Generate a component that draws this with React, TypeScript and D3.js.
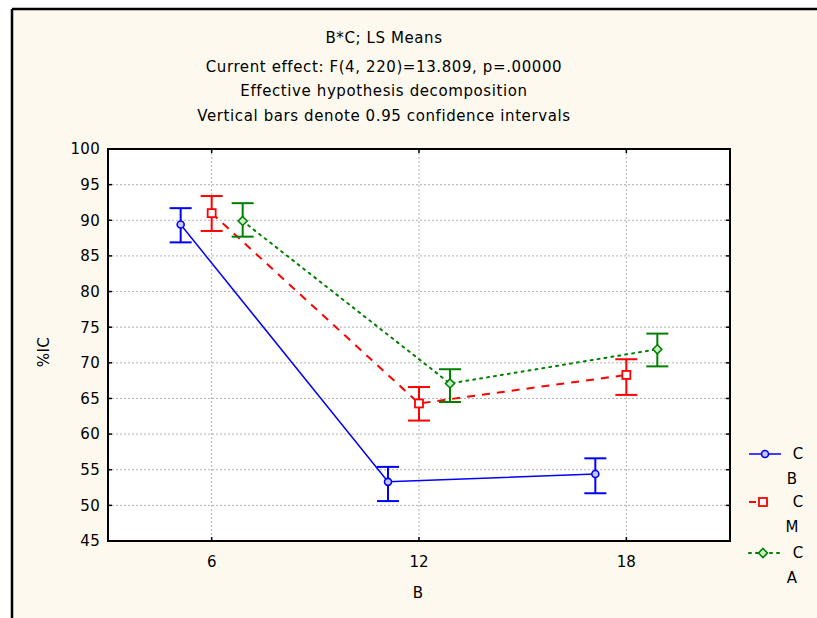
import * as d3 from 'd3'

const width = 817,
      height = 618,
      frame = { left: 108, right: 730, top: 149, bottom: 541 },
      font = '"DejaVu Sans", Verdana, sans-serif'

const titleLines = [
  'B*C; LS Means',
  'Current effect: F(4, 220)=13.809, p=.00000',
  'Effective hypothesis decomposition',
  'Vertical bars denote 0.95 confidence intervals'
]

const categories = [6, 12, 18]
const yTicks = [100, 95, 90, 85, 80, 75, 70, 65, 60, 55, 50, 45]
const seriesNames = ['B', 'M', 'A']

const meanB = [89.4, 53.3, 54.4]
const lowB = [86.9, 50.6, 51.7]
const highB = [91.7, 55.4, 56.6]

const meanM = [91.0, 64.3, 68.3]
const lowM = [88.5, 61.9, 65.5]
const highM = [93.4, 66.6, 70.5]

const meanA = [89.9, 67.1, 71.9]
const lowA = [87.7, 64.5, 69.5]
const highA = [92.4, 69.1, 74.1]

const series = [
  { name: 'B', mean: meanB, low: lowB, high: highB, color: '#0000ff', dash: null, marker: 'circle', width: 1.5 },
  { name: 'M', mean: meanM, low: lowM, high: highM, color: '#ff0000', dash: '8,7', marker: 'square', width: 2 },
  { name: 'A', mean: meanA, low: lowA, high: highA, color: '#008000', dash: '2,5', marker: 'diamond', width: 2 }
]

const Marker = ({ type, x, y, color }: { type: string, x: number, y: number, color: string }) => {
  if (type === 'circle') return <circle cx={x} cy={y} r={3.5} fill='#c8c8ff' stroke={color} strokeWidth={1.6} />
  if (type === 'square') return <rect x={x - 4} y={y - 4} width={8} height={8} fill='white' stroke={color} strokeWidth={1.8} />
  return <path d={`M${x},${y - 4.5}L${x + 4.5},${y}L${x},${y + 4.5}L${x - 4.5},${y}Z`} fill='#c8f0c8' stroke={color} strokeWidth={1.6} />
}

export default function App() {
  const xScale = d3.scalePoint<number>()
    .domain(categories)
    .range([frame.left, frame.right])
    .padding(0.5)

  const offset = d3.scalePoint<string>()
    .domain(seriesNames)
    .range([-31, 31])

  const yScale = d3.scaleLinear()
    .domain([45, 100])
    .range([frame.bottom, frame.top])

  const line = d3.line<[number, number]>()
    .x(d => d[0])
    .y(d => d[1])

  const legendY = [454, 502, 553]

  return (
    <svg width={width} height={height} style={{ position: 'absolute', left: 0, top: 0, display: 'block' }}
      fontFamily={font}>
      <rect width={width} height={height} fill='white' />
      <rect x={12} y={9} width={width} height={height} fill='#fdf9ee' />
      <line x1={12} x2={width} y1={9} y2={9} stroke='black' strokeWidth={2.5} />
      <line x1={12} x2={12} y1={9} y2={height} stroke='black' strokeWidth={2.5} />

      <g className='title' textAnchor='middle' fontSize={15} letterSpacing={0.6} fill='black'>
        {titleLines.map((t, i) => (
          <text key={t} x={384} y={[43, 72, 96, 121][i]}>{t}</text>
        ))}
      </g>

      <rect x={frame.left} y={frame.top} width={frame.right - frame.left} height={frame.bottom - frame.top} fill='white' />

      <g className='grid' stroke='#b0b0b0' strokeWidth={1} strokeDasharray='2,2'>
        {yTicks.filter(v => v !== 100 && v !== 45).map(v => (
          <line key={v} x1={frame.left} x2={frame.right} y1={yScale(v)} y2={yScale(v)} />
        ))}
        {categories.map(c => (
          <line key={c} x1={xScale(c)} x2={xScale(c)} y1={frame.top} y2={frame.bottom} />
        ))}
      </g>

      <g className='ticks' stroke='black' strokeWidth={1.5}>
        {yTicks.map(v => (
          <g key={v}>
            <line x1={frame.left} x2={frame.left + 4} y1={yScale(v)} y2={yScale(v)} />
            <line x1={frame.right - 4} x2={frame.right} y1={yScale(v)} y2={yScale(v)} />
          </g>
        ))}
        {categories.map(c => (
          <g key={c}>
            <line x1={xScale(c)} x2={xScale(c)} y1={frame.bottom} y2={frame.bottom - 4} />
            <line x1={xScale(c)} x2={xScale(c)} y1={frame.top} y2={frame.top + 4} />
          </g>
        ))}
      </g>

      <rect x={frame.left} y={frame.top} width={frame.right - frame.left} height={frame.bottom - frame.top}
        fill='none' stroke='black' strokeWidth={2} />

      <g className='axis left' fontSize={15} letterSpacing={0.3} textAnchor='end'>
        {yTicks.map(v => (
          <text key={v} x={100} y={yScale(v)} dy='0.36em'>{v}</text>
        ))}
      </g>
      <g className='axis bottom' fontSize={15} textAnchor='middle'>
        {categories.map(c => (
          <text key={c} x={xScale(c)} y={frame.bottom + 26}>{c}</text>
        ))}
      </g>
      <text x={418} y={598} fontSize={15} textAnchor='middle'>B</text>
      <text transform={`translate(49, 352) rotate(-90)`} fontSize={15} letterSpacing={0.5} textAnchor='middle'>%IC</text>

      <g className='series'>
        {series.map(s => {
          const pts = categories.map((c, i) => [xScale(c)! + offset(s.name)!, yScale(s.mean[i])] as [number, number])
          return (
            <g key={s.name}>
              <path d={line(pts)!} fill='none' stroke={s.color} strokeWidth={s.width}
                strokeDasharray={s.dash ?? undefined} strokeLinecap={s.dash === '2,5' ? 'round' : 'butt'} />
              {categories.map((c, i) => {
                const x = xScale(c)! + offset(s.name)!
                return (
                  <g key={c} stroke={s.color} strokeWidth={2}>
                    <line x1={x} x2={x} y1={yScale(s.low[i])} y2={yScale(s.high[i])} />
                    <line x1={x - 11} x2={x + 11} y1={yScale(s.low[i])} y2={yScale(s.low[i])} />
                    <line x1={x - 11} x2={x + 11} y1={yScale(s.high[i])} y2={yScale(s.high[i])} />
                  </g>
                )
              })}
              {pts.map((p, i) => <Marker key={i} type={s.marker} x={p[0]} y={p[1]} color={s.color} />)}
            </g>
          )
        })}
      </g>

      <g className='legend' fontSize={15}>
        {series.map((s, i) => (
          <g key={s.name}>
            <line x1={749} x2={s.name === 'M' ? 773 : 781} y1={legendY[i]} y2={legendY[i]} stroke={s.color}
              strokeWidth={s.width} strokeDasharray={s.name === 'M' ? '7,5' : (s.dash ?? undefined)}
              strokeLinecap={s.dash === '2,5' ? 'round' : 'butt'} />
            <Marker type={s.marker} x={s.name === 'B' ? 765 : 763} y={legendY[i]} color={s.color} />
            <text x={798} y={legendY[i]} dy='0.36em' textAnchor='middle'>C</text>
            <text x={792} y={legendY[i] + 25} dy='0.36em' textAnchor='middle'>{s.name}</text>
          </g>
        ))}
      </g>
    </svg>
  )
}
